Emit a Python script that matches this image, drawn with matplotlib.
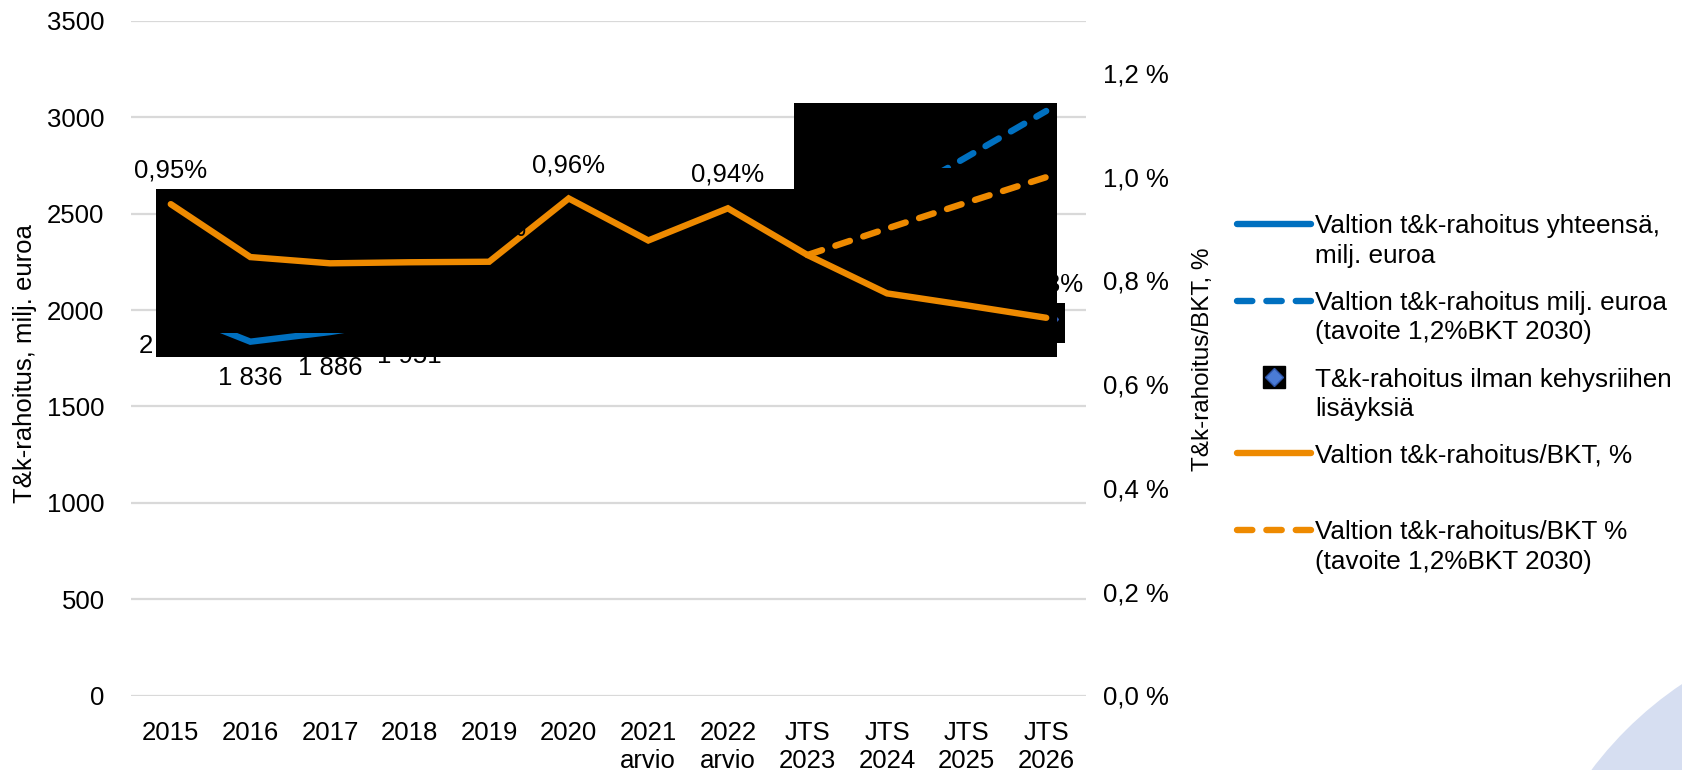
import numpy as np
import matplotlib
matplotlib.use("Agg")
import matplotlib.pyplot as plt
from matplotlib.patches import Rectangle, Circle
from matplotlib.lines import Line2D
from matplotlib.transforms import IdentityTransform

plt.rcParams['font.family'] = ['Liberation Sans', 'DejaVu Sans']

nan = np.nan
categories = ["2015", "2016", "2017", "2018", "2019", "2020", "2021\narvio", "2022\narvio",
              "JTS\n2023", "JTS\n2024", "JTS\n2025", "JTS\n2026"]
funding_total = [2000, 1836, 1886, 1951, 2006, 2280, 2201, 2517, 2316, 2200, 2212, 2208]
funding_target = [nan] * 8 + [2316, 2555, 2794, 3033]
funding_no_additions = [nan] * 11 + [1956]
share_gdp = [0.947, 0.845, 0.833, 0.835, 0.836, 0.958, 0.877, 0.939, 0.849, 0.775, 0.752, 0.728]
share_target = [nan] * 8 + [0.849, 0.900, 0.950, 0.999]
left_ticks = [0, 500, 1000, 1500, 2000, 2500, 3000, 3500]
right_ticks = [0.0, 0.2, 0.4, 0.6, 0.8, 1.0, 1.2]

legend_labels = [
    "Valtion t&k-rahoitus yhteensä,\nmilj. euroa",
    "Valtion t&k-rahoitus milj. euroa\n(tavoite 1,2%BKT 2030)",
    "T&k-rahoitus ilman kehysriihen\nlisäyksiä",
    "Valtion t&k-rahoitus/BKT, %",
    "Valtion t&k-rahoitus/BKT %\n(tavoite 1,2%BKT 2030)",
]

BLUE = "#0070C0"
ORANGE = "#EE8A00"
GRID = "#D9D9D9"
FS = 18.5
LFS = 18.8
LW = 4.6
DASH = (2.4, 2.2)

W, H = 1683, 770
fig = plt.figure(figsize=(W / 100, H / 100), dpi=100)
fig.patch.set_facecolor("white")

# decorative circle bottom-right
fig.add_artist(Circle((1889.5, H - 993.6), 372.7, transform=IdentityTransform(),
                      facecolor="#D6DEF1", edgecolor="none", zorder=-5))

ax = fig.add_axes([131 / W, 1 - 695.5 / H, 955 / W, 674.5 / H])
ax2 = ax.twinx()
x = np.arange(len(categories))

ax.set_xlim(-0.5, len(categories) - 0.5)
ax.set_ylim(0, 3500)
ax2.set_ylim(0, 1.3)

for a in (ax, ax2):
    for s in a.spines.values():
        s.set_visible(False)

ax.set_axisbelow(True)
ax.yaxis.grid(True, color=GRID, lw=1.6)
ax.xaxis.grid(False)
ax.set_yticks(left_ticks)
ax.set_yticklabels([str(v) for v in left_ticks])
ax.set_xticks(x)
ax.set_xticklabels(categories)
ax.tick_params(axis="y", length=0, pad=19, labelsize=FS)
ax.tick_params(axis="x", length=0, pad=18.5, labelsize=FS)
for t in ax.get_xticklabels():
    t.set_linespacing(1.2)
ax2.set_yticks(right_ticks)
ax2.set_yticklabels([f"{v:.1f} %".replace(".", ",") for v in right_ticks])
ax2.tick_params(axis="y", length=0, pad=12.2, labelsize=FS)

ax.set_ylabel("T&k-rahoitus, milj. euroa", fontsize=FS)
ax.yaxis.label.set_verticalalignment("center")
ax.yaxis.set_label_coords((25 - 131) / 955, (695.5 - 364) / 674.5)
ax2.set_ylabel("T&k-rahoitus/BKT, %", fontsize=17.5)
ax2.yaxis.label.set_verticalalignment("center")
ax2.yaxis.set_label_coords((1203 - 131) / 955, (695.5 - 359) / 674.5)


def px_rect(x0, y0, x1, y1, z):
    return Rectangle((x0 / W, 1 - y1 / H), (x1 - x0) / W, (y1 - y0) / H,
                     transform=fig.transFigure, facecolor="black", edgecolor="none",
                     zorder=z, clip_on=False)


# black masking boxes (as in the reference image)
ax.add_artist(px_rect(1056.7, 303.3, 1065, 343.3, 2.0))
ax.add_artist(px_rect(156, 189, 1056.7, 357.3, 3.0))
ax.add_artist(px_rect(794, 102.7, 1056.7, 189, 3.0))
ax.add_artist(px_rect(156, 189, 1056.7, 333.3, 5.0))
ax.add_artist(px_rect(794, 168.3, 1056.7, 189.5, 5.0))

# left-axis series
ax.plot(x, funding_no_additions, linestyle="none", marker="D", ms=12,
        mfc="#4A7BD6", mec="#2E55A8", mew=1, zorder=2.5)
ax.plot(x, funding_total, color=BLUE, lw=LW, solid_capstyle="round",
        solid_joinstyle="miter", zorder=4)
ax.plot(x, funding_target, color=BLUE, lw=LW, dashes=DASH,
        dash_capstyle="round", zorder=4)
for xi, v in zip(x[:-1], funding_total[:-1]):
    ax.annotate(f"{v:,}".replace(",", " "), (xi, v), xytext=(0, -26),
                textcoords="offset points", ha="center", va="center",
                fontsize=FS, zorder=2.8)

# right-axis series
ax2.plot(x, share_gdp, color=ORANGE, lw=LW, solid_capstyle="round",
         solid_joinstyle="miter", zorder=6)
ax2.plot(x, share_target, color=ORANGE, lw=LW, dashes=DASH,
         dash_capstyle="round", zorder=6)
for xi, v in zip(x, share_gdp):
    ax2.annotate(f"{v:.2f}%".replace(".", ","), (xi, v), xytext=(0, 24),
                 textcoords="offset points", ha="center", va="center",
                 fontsize=FS, zorder=7)

# legend (built to match reference layout)
entry_y = [224.3, 300.7, 377.3, 453.3, 530.0]
hx0, hx1, tx = 1237, 1311, 1315
styles = [("solid", BLUE), ("dash", BLUE), ("marker", None), ("solid", ORANGE), ("dash", ORANGE)]
for (kind, col), yy, lab in zip(styles, entry_y, legend_labels):
    yf = 1 - yy / H
    if kind == "solid":
        fig.add_artist(Line2D([hx0 / W, hx1 / W], [yf, yf], transform=fig.transFigure,
                              color=col, lw=LW, solid_capstyle="round"))
    elif kind == "dash":
        fig.add_artist(Line2D([hx0 / W, hx1 / W], [yf, yf], transform=fig.transFigure,
                              color=col, lw=LW, dashes=DASH, dash_capstyle="round"))
    else:
        xm = (hx0 + hx1) / 2 / W
        fig.add_artist(Line2D([xm], [yf], transform=fig.transFigure, linestyle="none",
                              marker="s", ms=15.6, mfc="black", mec="black"))
        fig.add_artist(Line2D([xm], [yf], transform=fig.transFigure, linestyle="none",
                              marker="D", ms=9.2, mfc="#4A7BD6", mec="#2E55A8", mew=1))
    for k, line in enumerate(lab.split("\n")):
        fig.text(tx / W, 1 - (yy + 9.2 + 29.6 * k) / H, line, fontsize=LFS,
                 ha="left", va="baseline")

fig.savefig("out.png", dpi=100, facecolor="white")
